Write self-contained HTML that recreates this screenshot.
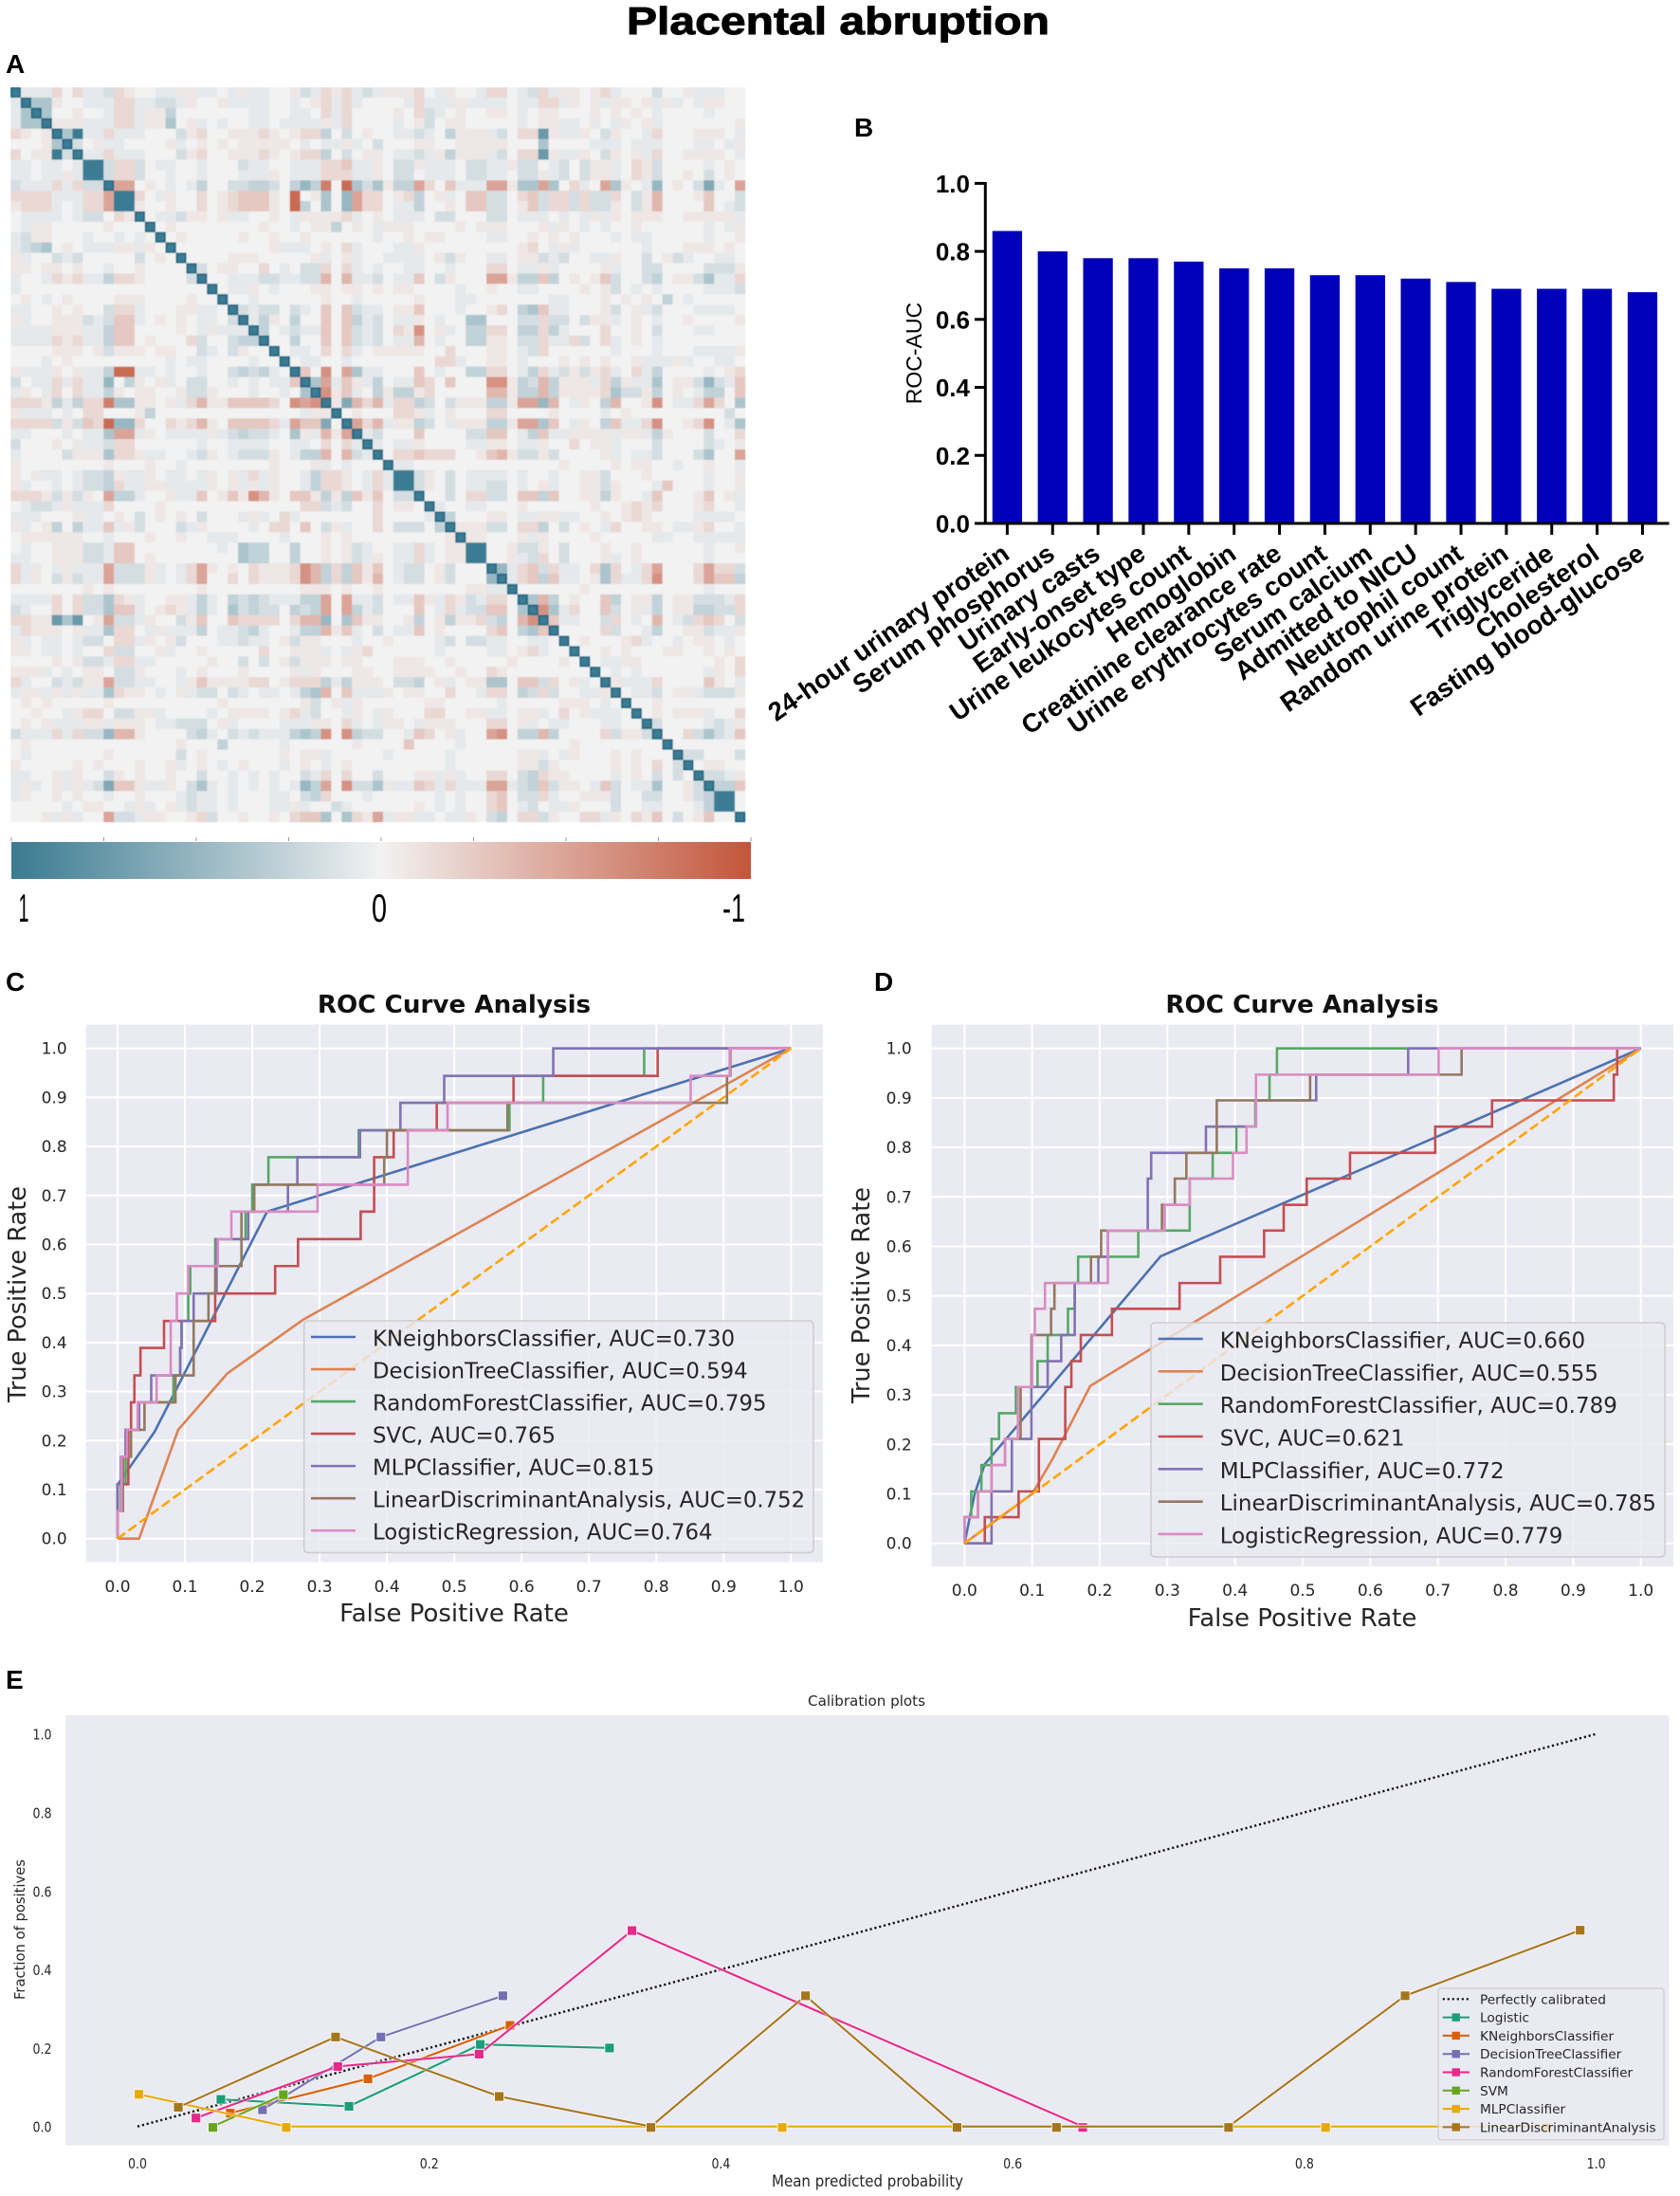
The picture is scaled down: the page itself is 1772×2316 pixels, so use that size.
<!DOCTYPE html>
<html lang="en">
<head>
<meta charset="utf-8">
<title>Placental abruption</title>
<style>
html,body{margin:0;padding:0;background:#fff;}
#root{display:block;width:1772px;height:2316px;}
text{font-family:"Liberation Sans",sans-serif;}
.dv{font-family:"DejaVu Sans",sans-serif;}
</style>
</head>
<body>
<svg id="root" xmlns="http://www.w3.org/2000/svg" width="1772" height="2316" viewBox="0 0 1772 2316">
  <rect x="0" y="0" width="1772" height="2316" fill="#ffffff"/>
  <text x="884" y="36" text-anchor="middle" font-size="41" font-weight="bold" stroke="#000" stroke-width="0.9" textLength="446" lengthAdjust="spacingAndGlyphs">Placental abruption</text>
  <text x="6" y="77" font-size="28" font-weight="bold">A</text>
  <text x="901" y="144" font-size="28" font-weight="bold">B</text>
  <text x="6" y="1045" font-size="28" font-weight="bold">C</text>
  <text x="922" y="1045" font-size="28" font-weight="bold">D</text>
  <text x="6" y="1781" font-size="28" font-weight="bold">E</text>

  <g id="panelA">
    <defs>
      <linearGradient id="cbGrad" x1="0" x2="1" y1="0" y2="0">
        <stop offset="0" stop-color="#3a7a91"/>
        <stop offset="0.5" stop-color="#f2f2f2"/>
        <stop offset="1" stop-color="#c3553b"/>
      </linearGradient>
      <filter id="softCells" x="0" y="0" width="100%" height="100%">
        <feGaussianBlur stdDeviation="0.5"/>
      </filter>
    </defs>
    <g id="heatCells" filter="url(#softCells)"></g>
    <g id="cbTicks"></g>
    <rect x="12" y="888" width="780" height="39" fill="url(#cbGrad)"/>
    <text x="25" y="972" text-anchor="middle" font-size="42" textLength="11" lengthAdjust="spacingAndGlyphs">1</text>
    <text x="400" y="972" text-anchor="middle" font-size="42" textLength="16" lengthAdjust="spacingAndGlyphs">0</text>
    <text x="774" y="972" text-anchor="middle" font-size="42" textLength="24" lengthAdjust="spacingAndGlyphs">-1</text>
  </g>

  <g id="panelB">
    <g id="barMarks"></g>
    <line x1="1039.3" y1="192" x2="1039.3" y2="553" stroke="#000" stroke-width="3"/>
    <line x1="1028" y1="552" x2="1760.5" y2="552" stroke="#000" stroke-width="3"/>
    <g id="barAxes"></g>
    <text transform="translate(972,372.6) rotate(-90)" text-anchor="middle" font-size="23">ROC-AUC</text>
  </g>

  <g id="panelC"></g>
  <g id="panelD"></g>
  <g id="panelE"></g>
</svg>

<script>
/* ---------- Panel A data: upper triangle of the correlation matrix.
   Each row starts at its diagonal. 0 neutral, 1-9 positive, a-i negative. */
const heatmapRows = [
"9111b0b112 ba0011aa11 01a1100a21 bab121aaab 01a001bb01 2b1aa0ab10 00200a11100",
"944a00111 bb11221a00 a11110010a b1b100001b 111a111101 1bb1a0a1aa 0a1a101aa00",
"9400a001 bb1aa30000 0001100110 b1b0000a0b 210a00aa01 0aa000a0a0 a0100001000",
"9aaa111 bb1aa40a10 1001101111 a1b000010a 20aa000001 0aa110101a 0a10000000a",
"94911b 1110002ab0 0aaaba0abb 3020a00112 103aaa120b b7a11a02a0 01b000aaa01",
"920a1 10000a10a0 a0aaaaa010 11a102000a a00aaaaa00 0400001110 1110001101a",
"911b 1110002ab0 0aaaba0abb 3020aa0112 1a3aaa120b b7a11a02a0 a1b00aaaa01",
"982 bb20110010 0021100111 bbc11a022a 11102211a2 201202aa10 ba2000010a0",
"82 bb20010010 00111a0111 bbb11a0220 1110221102 2a1202aa10 ba200a020a0",
"9 ee0a010130 0223320353 g0h424a33e b0c111eea4 4e40b10e4a 0150a02610e",
"88b01a00b0 abccca0h0a 405ebb0ab3 0a10cc220b c2bb2b22b0 2ad000ac002",
"8a00a00b0 abccca0h30 405ebb0113 00a0cc220a c2bb2b22a0 2ad0000c012",
"90112aa0 a1100a01aa aab10a0111 0220002201 110101a1a0 aaa00aaaaa1",
"90a0000 0000a0010a a30a01aaa0 000a0aaa00 0a1a010100 a000000101a",
"90a000 00a00a00a0 00000100a0 aa00001100 a0a0a00010 1100000100a",
"90000 00000a1110 a0b100011a 000000000a b01a100000 01000aaa0a0",
"9000 0aaa00000a 10a1001111 0a2a00110a a2120011a0 020a2100110",
"920 aa00b01022 b0b1010011 001000bb01 1a10000a10 0220000222a",
"90 0111221122 d0d112011c 02a000eea3 3c30a0ac20 0230aa2411b",
"9 011a01000a a0aa0a0aa0 000100a001 10000a0a20 10100001112",
"9001000000 a00100000a 0001100000 0011000a0a 0a030100000",
"921220210 c0c2110aac 000100ab03 4c11000a20 a1200011110",
"913a0300 c0c312011a 0100440002 2b2202aa10 a0100a0000a",
"9301211 c0c2120baf 0a1033bb03 3b31000b00 a0200011000",
"900300 c0c212011d 010033aa02 2b11b20b10 a0100000000",
"90110 b0b10aaaaa 00b000aa01 2b00000010 0010001111a",
"9011 0010000000 0bb100aa01 000a0a0a00 a111a100110",
"9c0 f0e411000c 010033bb01 3b12a2ab10 b13000010ab",
"94 e1ca13011c b0c000ffa3 2d3aaa1b3a 1140aa2521c",
"9 fac103a33a b00000dda3 3d3aaaab42 2a30a01330c",
"9a6dbd1bb3 202aaa33ae e5d01a03d0 0af011beb04",
"90a000bba 10a000bb00 00a000010a 00000000020",
"9ebd1aa3 201aaa33ae e4c01a03c1 1bf00abf014",
"912000c 000022cc01 3c11aaaa1a a13a000200b",
"91011a 000011aa01 1a00b0aa10 0020000210a",
"90bbc bbb00acda2 2a20000a10 1120002400e",
"9110 0000000000 000a0000a0 aa00100a001",
"982 a020111101 00100aa200 0a00000100a",
"92 a020112201 0a100aa2a0 001c000100a",
"9 0020bb220c c3c00aa3a0 01c000ac0a1",
"910011000a 000000a00a bab000ab001",
"93000aa01 1aa1100a0a ba000011110",
"9aaa220b b3020a01b0 0aa011ab001",
"9aa000a 1a0000a000 00110011111",
"9800a2 2a02000a00 a000000100a",
"900a1 2b02000a10 a0000001000",
"951b c2b110b4b0 1be000bebb2",
"91b c3c110a4b1 1bf000becc3",
"90 00000a0000 00000001000",
"9 4d30a00c30 aa30aa2221b",
"9f41b00c20 a130aa3322b",
"9c11002b0 10d012bcb02",
"90000b20 01300aa211a",
"90a000a b10010aa010",
"900a0a 000aa00a0a0",
"9011a a0000000a0b",
"9010 10000001a0b",
"9a1 11b0000ca01",
"90 1120aa1222a",
"9 00a00000000",
"90a0aaa100b",
"920000121a",
"900b2421c",
"90000000",
"9220002",
"90aa00",
"9221a",
"933c",
"980",
"90",
"9"
];

/* ---------- Panel B data ---------- */
const barCategories = ["24-hour urinary protein","Serum phosphorus","Urinary casts","Early-onset type","Urine leukocytes count","Hemoglobin","Creatinine clearance rate","Urine erythrocytes count","Serum calcium","Admitted to NICU","Neutrophil count","Random urine protein","Triglyceride","Cholesterol","Fasting blood-glucose"];
const barValues = [0.86,0.80,0.78,0.78,0.77,0.75,0.75,0.73,0.73,0.72,0.71,0.69,0.69,0.69,0.68];
const barTicks = [0,0.2,0.4,0.6,0.8,1.0];

/* ---------- Panels C / D shared ---------- */
const rocTicks = [0,0.1,0.2,0.3,0.4,0.5,0.6,0.7,0.8,0.9,1.0];
const rocNames = ["KNeighborsClassifier","DecisionTreeClassifier","RandomForestClassifier","SVC","MLPClassifier","LinearDiscriminantAnalysis","LogisticRegression"];
const rocColors = ["#4c72b0","#dd8452","#55a868","#c44e52","#8172b3","#937860","#da8bc3"];
const aucC = ["0.730","0.594","0.795","0.765","0.815","0.752","0.764"];
const aucD = ["0.660","0.555","0.789","0.621","0.772","0.785","0.779"];
const chanceFpr = [0,1];
const chanceTpr = [0,1];

/* Panel C curves (polyline for the first two, stepped for the rest) */
const cKnnFpr = [0,0,0.055,0.222,1];
const cKnnTpr = [0,0.11,0.218,0.667,1];
const cTreeFpr = [0,0.032,0.09,0.163,0.276,1];
const cTreeTpr = [0,0,0.222,0.337,0.447,1];
const cForestFpr = [0,0.005,0.012,0.03,0.083,0.093,0.095,0.105,0.108,0.145,0.19,0.2,0.224,0.358,0.582,0.632,0.782,1];
const cForestTpr = [0.056,0.111,0.222,0.278,0.333,0.389,0.444,0.5,0.556,0.611,0.667,0.722,0.778,0.833,0.889,0.944,1,1];
const cSvcFpr = [0,0.016,0.02,0.025,0.034,0.069,0.145,0.234,0.268,0.361,0.381,0.41,0.474,0.588,0.802,1];
const cSvcTpr = [0.111,0.222,0.278,0.333,0.389,0.444,0.5,0.556,0.611,0.667,0.778,0.833,0.889,0.944,1,1];
const cMlpFpr = [0,0.005,0.012,0.032,0.05,0.093,0.095,0.113,0.147,0.194,0.253,0.267,0.36,0.42,0.485,0.647,1];
const cMlpTpr = [0.111,0.167,0.222,0.278,0.333,0.389,0.444,0.5,0.611,0.667,0.722,0.778,0.833,0.889,0.944,1,1];
const cLdaFpr = [0,0.008,0.02,0.04,0.086,0.113,0.135,0.145,0.184,0.203,0.396,0.4,0.579,0.905,0.91,1];
const cLdaTpr = [0.056,0.167,0.222,0.278,0.333,0.444,0.5,0.556,0.667,0.722,0.778,0.833,0.889,0.944,1,1];
const cLogFpr = [0,0.006,0.014,0.03,0.058,0.079,0.088,0.105,0.149,0.169,0.297,0.431,0.49,0.851,0.909,1];
const cLogTpr = [0.056,0.167,0.222,0.278,0.333,0.444,0.5,0.556,0.611,0.667,0.722,0.833,0.889,0.944,1,1];

/* Panel D curves */
const dKnnFpr = [0,0.015,0.03,0.29,1];
const dKnnTpr = [0,0.1,0.16,0.58,1];
const dTreeFpr = [0,0.05,0.1,0.13,0.186,1];
const dTreeTpr = [0,0.05,0.1,0.17,0.318,1];
const dForestFpr = [0,0.01,0.025,0.04,0.051,0.076,0.108,0.123,0.153,0.163,0.168,0.257,0.333,0.367,0.402,0.43,0.451,0.462,1];
const dForestTpr = [0.053,0.105,0.158,0.211,0.263,0.316,0.368,0.421,0.474,0.526,0.579,0.632,0.737,0.789,0.842,0.895,0.947,1,1];
const dSvcFpr = [0,0.03,0.08,0.11,0.149,0.158,0.172,0.218,0.318,0.378,0.443,0.472,0.506,0.57,0.696,0.78,0.96,0.965,1];
const dSvcTpr = [0,0.053,0.105,0.211,0.316,0.368,0.421,0.474,0.526,0.579,0.632,0.684,0.737,0.789,0.842,0.895,0.947,1,1];
const dMlpFpr = [0,0.04,0.07,0.099,0.123,0.143,0.163,0.198,0.212,0.271,0.276,0.357,0.431,0.52,0.656,1];
const dMlpTpr = [0,0.105,0.211,0.316,0.368,0.421,0.526,0.579,0.632,0.737,0.789,0.842,0.895,0.947,1,1];
const dLdaFpr = [0,0.02,0.04,0.06,0.083,0.099,0.128,0.133,0.187,0.202,0.292,0.311,0.328,0.373,0.511,0.735,1];
const dLdaTpr = [0.053,0.105,0.158,0.211,0.316,0.421,0.474,0.526,0.579,0.632,0.684,0.737,0.789,0.895,0.947,1,1];
const dLogFpr = [0,0.02,0.04,0.06,0.079,0.1,0.104,0.119,0.212,0.296,0.333,0.397,0.417,0.431,0.701,1];
const dLogTpr = [0.053,0.105,0.158,0.211,0.316,0.421,0.474,0.526,0.632,0.684,0.737,0.789,0.842,0.947,1,1];

/* ---------- Panel E data ---------- */
const calTicks = [0,0.2,0.4,0.6,0.8,1.0];
const calNames = ["Logistic","KNeighborsClassifier","DecisionTreeClassifier","RandomForestClassifier","SVM","MLPClassifier","LinearDiscriminantAnalysis"];
const calColors = ["#1b9e77","#d95f02","#7570b3","#e7298a","#66a61e","#e6ab02","#a6761d"];
const calLogisticX = [0.0572,0.145,0.235,0.3236];
const calLogisticY = [0.069,0.0515,0.209,0.2];
const calKnnX = [0.0636,0.158,0.2554];
const calKnnY = [0.034,0.1216,0.2576];
const calTreeX = [0.0857,0.1669,0.2505];
const calTreeY = [0.0427,0.228,0.333];
const calForestX = [0.0401,0.1373,0.2342,0.339,0.648];
const calForestY = [0.0217,0.153,0.1844,0.499,0];
const calSvmX = [0.0517,0.1];
const calSvmY = [0,0.081];
const calMlpX = [0.001,0.102,0.442,0.8145,0.966];
const calMlpY = [0.082,0,0,0,0];
const calLdaX = [0.028,0.1358,0.248,0.352,0.458,0.5618,0.63,0.748,0.869,0.989];
const calLdaY = [0.049,0.228,0.0765,0,0.333,0,0,0,0.333,0.5];
const calPerfectX = [0,1];
const calPerfectY = [0,1];

const NS = 'http://www.w3.org/2000/svg';
function svgEl(tag, attrs, parent){
  const el = document.createElementNS(NS, tag);
  for (const k in attrs) el.setAttribute(k, attrs[k]);
  parent.appendChild(el);
  return el;
}

/* ---------- Panel A ---------- */
function heatValue(ch){
  if (ch >= '0' && ch <= '9') return (+ch) / 9;
  return -(ch.charCodeAt(0) - 96) / 9;
}
function mix(a, b, t){ return Math.round(a + (b - a) * t); }
function heatColor(v){
  const t = Math.pow(Math.abs(v), 1.2);
  if (v >= 0) return `rgb(${mix(242,58,t)},${mix(242,122,t)},${mix(242,145,t)})`;
  return `rgb(${mix(242,195,t)},${mix(242,85,t)},${mix(242,59,t)})`;
}
(function drawHeatmap(){
  const n = heatmapRows.length;
  const matrix = [];
  for (let r = 0; r < n; r++) matrix.push(new Array(n).fill(0));
  heatmapRows.forEach((row, r) => {
    const codes = row.replace(/ /g, '');
    for (let i = 0; i < codes.length && r + i < n; i++) {
      const v = heatValue(codes[i]);
      matrix[r][r + i] = v;
      matrix[r + i][r] = v;
    }
  });
  const x0 = 11, y0 = 92, size = 775 / n;
  const host = document.getElementById('heatCells');
  for (let r = 0; r < n; r++) {
    for (let c = 0; c < n; c++) {
      const strong = matrix[r][c] >= 0.8;
      const cell = svgEl('rect', {x:(x0 + c * size).toFixed(2), y:(y0 + r * size).toFixed(2), width:(size + 0.3).toFixed(2), height:(size + 0.3).toFixed(2), fill:strong ? '#3a7c93' : heatColor(matrix[r][c])}, host);
      
      
    }
  }
  /* dark rim around isolated diagonal cells only; merged blocks stay uniform */
  for (let r = 0; r < n; r++) {
    const hasNeighbour = (r > 0 && matrix[r][r - 1] >= 0.8) || (r < n - 1 && matrix[r][r + 1] >= 0.8);
    if (hasNeighbour) continue;
    const rim = svgEl('rect', {x:(x0 + r * size + 0.8).toFixed(2), y:(y0 + r * size + 0.8).toFixed(2), width:(size - 1.6).toFixed(2), height:(size - 1.6).toFixed(2), fill:'none', stroke:'#1d6480', 'stroke-width':1.6}, host);
    
    
  }
  const tickHost = document.getElementById('cbTicks');
  for (let i = 0; i < 9; i++) {
    const tx = 12 + i * 97.5;
    const tick = svgEl('line', {x1:tx, x2:tx, y1:883, y2:887, stroke:'#999', 'stroke-width':1}, tickHost);
    
    
  }
})();

/* ---------- Panel B ---------- */
(function drawBars(){
  const yB = v => 552 - v * 358.6;
  const xB = i => 1062.4 + i * 47.86;
  const barW = 31.3;
  const marks = document.getElementById('barMarks');
  const axes = document.getElementById('barAxes');
  barValues.forEach((v, i) => {
    const bar = svgEl('rect', {x:(xB(i) - barW / 2).toFixed(2), y:yB(v).toFixed(2), width:barW, height:(yB(0) - yB(v)).toFixed(2), fill:'#0000b8'}, marks);
    
    
    const tick = svgEl('line', {x1:xB(i), x2:xB(i), y1:552, y2:564, stroke:'#000', 'stroke-width':3}, axes);
    
    
    const ax = xB(i) + 4, ay = 588;
    const lab = svgEl('text', {transform:`translate(${ax},${ay}) rotate(-35)`, 'text-anchor':'end', 'font-size':27.5, 'font-weight':'bold', fill:'#000'}, axes);
    lab.textContent = barCategories[i];
    
    
  });
  barTicks.forEach(t => {
    const tick = svgEl('line', {x1:1028, x2:1039.3, y1:yB(t), y2:yB(t), stroke:'#000', 'stroke-width':3}, axes);
    
    
    const lab = svgEl('text', {x:1023, y:yB(t) + 9.5, 'text-anchor':'end', 'font-size':26, 'font-weight':'bold', fill:'#000'}, axes);
    lab.textContent = t.toFixed(1);
    
    
  });
})();

/* ---------- Panels C / D ---------- */
function polyPath(xs, ys, sx, sy){
  return xs.map((v, i) => (i ? 'L' : 'M') + sx(v).toFixed(2) + ' ' + sy(ys[i]).toFixed(2)).join('');
}
function stepPath(xs, ys, sx, sy){
  let d = 'M' + sx(0).toFixed(2) + ' ' + sy(0).toFixed(2);
  let prev = 0;
  xs.forEach((v, i) => {
    d += 'L' + sx(v).toFixed(2) + ' ' + sy(prev).toFixed(2);
    d += 'L' + sx(v).toFixed(2) + ' ' + sy(ys[i]).toFixed(2);
    prev = ys[i];
  });
  return d;
}
function drawRoc(g, cfg){
  const sx = v => cfg.x0 + v * cfg.xSpan;
  const sy = v => cfg.y0 - v * cfg.ySpan;
  const bg = svgEl('rect', {x:cfg.left, y:cfg.top, width:cfg.right - cfg.left, height:cfg.bottom - cfg.top, fill:'#eaeaf2'}, g);
  
  
  rocTicks.forEach(t => {
    const gv = svgEl('line', {x1:sx(t), x2:sx(t), y1:cfg.top, y2:cfg.bottom, stroke:'#fff', 'stroke-width':2}, g);
    
    
    const gh = svgEl('line', {x1:cfg.left, x2:cfg.right, y1:sy(t), y2:sy(t), stroke:'#fff', 'stroke-width':2}, g);
    
    
    const xl = svgEl('text', {x:sx(t), y:cfg.xTickY, 'text-anchor':'middle', 'font-size':17, fill:'#262626', class:'dv'}, g);
    xl.textContent = t.toFixed(1);
    
    
    const yl = svgEl('text', {x:cfg.yTickX, y:sy(t) + 6, 'text-anchor':'end', 'font-size':17, fill:'#262626', class:'dv'}, g);
    yl.textContent = t.toFixed(1);
    
    
  });
  cfg.curves.forEach((c, i) => {
    const d = c.step ? stepPath(c.x, c.y, sx, sy) : polyPath(c.x, c.y, sx, sy);
    const p = svgEl('path', {d:d, fill:'none', stroke:rocColors[i], 'stroke-width':2.6, 'stroke-linejoin':'miter'}, g);
    
    
  });
  const chance = svgEl('path', {d:polyPath(chanceFpr, chanceTpr, sx, sy), fill:'none', stroke:'#ffa500', 'stroke-width':2.6, 'stroke-dasharray':'10 4.5'}, g);
  
  

  const box = svgEl('rect', {x:cfg.legend.x, y:cfg.legend.y, width:cfg.legend.w, height:cfg.legend.h, rx:4, fill:'#eaeaf2', 'fill-opacity':0.8, stroke:'#cccccc', 'stroke-width':1.5}, g);
  
  
  rocNames.forEach((name, i) => {
    const ly = cfg.legend.first + i * cfg.legend.gap;
    const ll = svgEl('line', {x1:cfg.legend.lineX, x2:cfg.legend.lineX + 47, y1:ly, y2:ly, stroke:rocColors[i], 'stroke-width':2.6}, g);
    
    
    const lt = svgEl('text', {x:cfg.legend.textX, y:ly + 9.5, 'font-size':cfg.legend.font, fill:'#262626', class:'dv'}, g);
    lt.textContent = name + ', AUC=' + cfg.auc[i];
    
    
  });
  const title = svgEl('text', {x:cfg.titleX, y:1068, 'text-anchor':'middle', 'font-size':26.2, 'font-weight':'bold', fill:'#111', class:'dv'}, g);
  title.textContent = 'ROC Curve Analysis';
  
  
  const xt = svgEl('text', {x:cfg.titleX, y:cfg.xTitleY, 'text-anchor':'middle', 'font-size':26, fill:'#262626', class:'dv'}, g);
  xt.textContent = 'False Positive Rate';
  
  
  const yt = svgEl('text', {transform:`translate(${cfg.yTitleX},${cfg.yTitleY}) rotate(-90)`, 'text-anchor':'middle', 'font-size':25.6, fill:'#262626', class:'dv'}, g);
  yt.textContent = 'True Positive Rate';
  
  
}
drawRoc(document.getElementById('panelC'), {
  left:90.7, right:868, top:1080.7, bottom:1647.6, x0:124, xSpan:710.3, y0:1622.7, ySpan:517,
  xTickY:1679, yTickX:70.7, titleX:479, xTitleY:1710, yTitleX:27, yTitleY:1365, auc:aucC,
  legend:{x:320.7, y:1393, w:537.3, h:244.5, first:1410, gap:34.03, lineX:328, textX:393, font:22.8},
  curves:[
    {x:cKnnFpr, y:cKnnTpr, step:false},
    {x:cTreeFpr, y:cTreeTpr, step:false},
    {x:cForestFpr, y:cForestTpr, step:true},
    {x:cSvcFpr, y:cSvcTpr, step:true},
    {x:cMlpFpr, y:cMlpTpr, step:true},
    {x:cLdaFpr, y:cLdaTpr, step:true},
    {x:cLogFpr, y:cLogTpr, step:true}
  ]
});
drawRoc(document.getElementById('panelD'), {
  left:982.7, right:1765, top:1080.7, bottom:1652, x0:1017.3, xSpan:713.4, y0:1627.7, ySpan:522,
  xTickY:1683, yTickX:961.7, titleX:1373.5, xTitleY:1715, yTitleX:917, yTitleY:1366, auc:aucD,
  legend:{x:1214, y:1395, w:542, h:247, first:1412, gap:34.33, lineX:1221.7, textX:1286.7, font:23},
  curves:[
    {x:dKnnFpr, y:dKnnTpr, step:false},
    {x:dTreeFpr, y:dTreeTpr, step:false},
    {x:dForestFpr, y:dForestTpr, step:true},
    {x:dSvcFpr, y:dSvcTpr, step:true},
    {x:dMlpFpr, y:dMlpTpr, step:true},
    {x:dLdaFpr, y:dLdaTpr, step:true},
    {x:dLogFpr, y:dLogTpr, step:true}
  ]
});

/* ---------- Panel E ---------- */
(function drawCalibration(){
  const g = document.getElementById('panelE');
  const sx = v => 145 + v * 1538.6;
  const sy = v => 2242.7 - v * 414;
  const bg = svgEl('rect', {x:69.2, y:1809, width:1691.2, height:453.7, fill:'#eaeaf2'}, g);
  
  
  calTicks.forEach(t => {
    const xl = svgEl('text', {x:sx(t), y:2287, 'text-anchor':'middle', 'font-size':15.5, fill:'#262626', textLength:20, lengthAdjust:'spacingAndGlyphs', class:'dv'}, g);
    xl.textContent = t.toFixed(1);
    
    
    const yl = svgEl('text', {x:34.5, y:sy(t) + 6, 'font-size':15.5, fill:'#262626', textLength:20, lengthAdjust:'spacingAndGlyphs', class:'dv'}, g);
    yl.textContent = t.toFixed(1);
    
    
  });
  const perfect = svgEl('path', {d:polyPath(calPerfectX, calPerfectY, sx, sy), fill:'none', stroke:'#111', 'stroke-width':2.4, 'stroke-dasharray':'2.2 2.8'}, g);
  
  
  const series = [
    [calLogisticX, calLogisticY],
    [calKnnX, calKnnY],
    [calTreeX, calTreeY],
    [calForestX, calForestY],
    [calSvmX, calSvmY],
    [calMlpX, calMlpY],
    [calLdaX, calLdaY]
  ];
  series.forEach((s, i) => {
    const halo = svgEl('path', {d:polyPath(s[0], s[1], sx, sy), fill:'none', stroke:'#fff', 'stroke-opacity':0.6, 'stroke-width':3.6}, g);
    
    
    const line = svgEl('path', {d:polyPath(s[0], s[1], sx, sy), fill:'none', stroke:calColors[i], 'stroke-width':2.1}, g);
    
    
    s[0].forEach((v, j) => {
      const m = svgEl('rect', {x:(sx(v) - 5).toFixed(2), y:(sy(s[1][j]) - 5 + (s[1][j] === 0 ? 1 : 0)).toFixed(2), width:10, height:10, fill:calColors[i], stroke:'#fff', 'stroke-width':0.8}, g);
      
      
    });
  });
  const box = svgEl('rect', {x:1517, y:2097, width:238, height:159.7, rx:3, fill:'#eaeaf2', 'fill-opacity':0.8, stroke:'#cccccc', 'stroke-width':1.2}, g);
  
  
  const ly0 = 2108.3, lgap = 19.3;
  const pl = svgEl('line', {x1:1521.7, x2:1550, y1:ly0, y2:ly0, stroke:'#111', 'stroke-width':2.2, 'stroke-dasharray':'2.2 2.8'}, g);
  
  
  const pt = svgEl('text', {x:1561, y:ly0 + 5, 'font-size':13.7, fill:'#262626', class:'dv'}, g);
  pt.textContent = 'Perfectly calibrated';
  
  
  calNames.forEach((name, i) => {
    const ly = ly0 + (i + 1) * lgap;
    const sw = svgEl('line', {x1:1521.7, x2:1550, y1:ly, y2:ly, stroke:calColors[i], 'stroke-width':2}, g);
    
    
    const mk = svgEl('rect', {x:1531.5, y:ly - 4.2, width:8.4, height:8.4, fill:calColors[i]}, g);
    
    
    const tx = svgEl('text', {x:1561, y:ly + 5, 'font-size':13.7, fill:'#262626', class:'dv'}, g);
    tx.textContent = name;
    
    
  });
  const title = svgEl('text', {x:914, y:1799, 'text-anchor':'middle', 'font-size':14.7, fill:'#262626', textLength:124, lengthAdjust:'spacingAndGlyphs', class:'dv'}, g);
  title.textContent = 'Calibration plots';
  
  
  const xt = svgEl('text', {x:915, y:2306, 'text-anchor':'middle', 'font-size':16.5, fill:'#262626', textLength:202, lengthAdjust:'spacingAndGlyphs', class:'dv'}, g);
  xt.textContent = 'Mean predicted probability';
  
  
  const yt = svgEl('text', {transform:'translate(26,2035) rotate(-90)', 'text-anchor':'middle', 'font-size':15, fill:'#262626', textLength:148, lengthAdjust:'spacingAndGlyphs', class:'dv'}, g);
  yt.textContent = 'Fraction of positives';
  
  
})();
</script>
</body>
</html>
